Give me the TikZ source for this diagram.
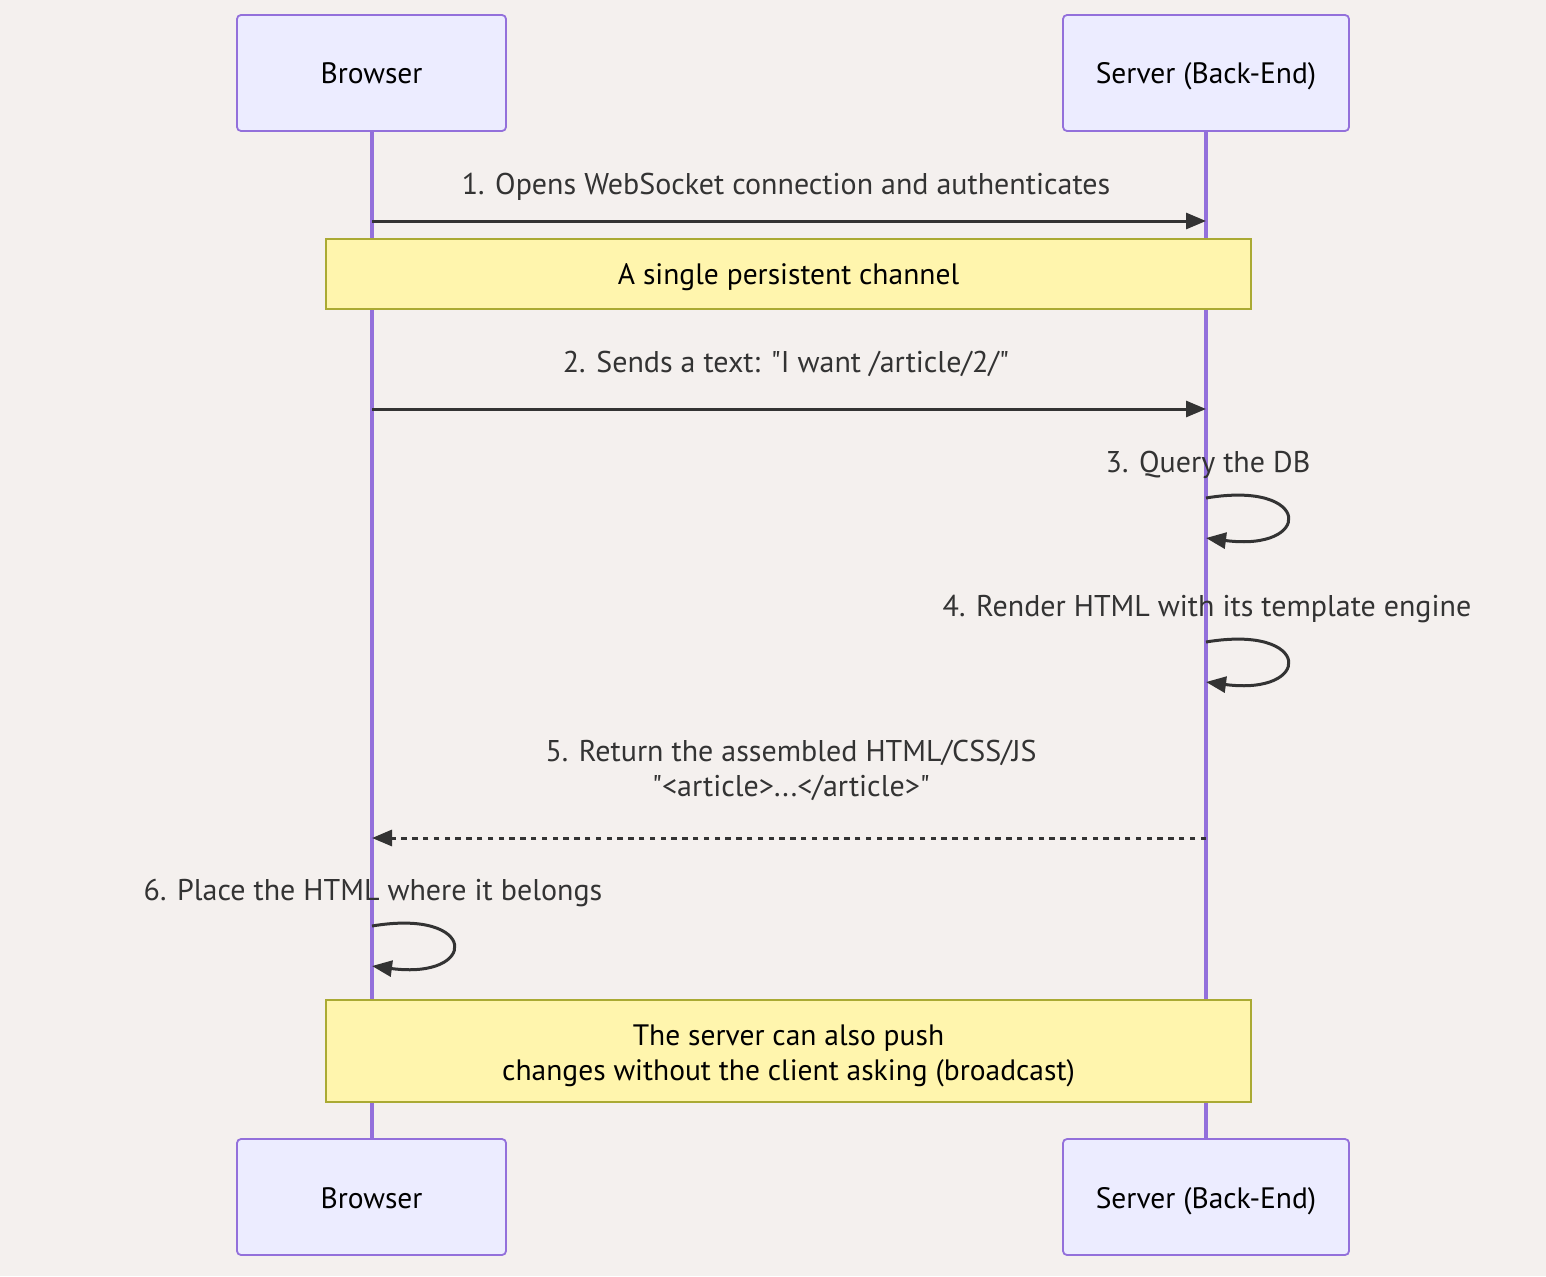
\documentclass[tikz,border=0pt]{standalone}
\usepackage{fontspec}
\setmainfont{PT Sans}[Ligatures=TeXOff]
\usetikzlibrary{arrows.meta}
\definecolor{bgc}{RGB}{244,240,238}
\definecolor{actfill}{RGB}{236,236,255}
\definecolor{actline}{RGB}{147,112,219}
\definecolor{notefill}{RGB}{255,245,173}
\definecolor{noteline}{RGB}{170,170,51}
\definecolor{msgc}{RGB}{51,51,51}
\tikzset{
  actor/.style={draw=actline, fill=actfill, line width=1.8pt, rounded corners=4pt,
    minimum width=269pt, minimum height=116pt, inner sep=0pt, text=black,
    text height=25pt, text depth=3pt,
    font=\fontsize{29.5}{35}\selectfont},
  lifeline/.style={draw=actline, line width=3.4pt},
  note/.style={draw=noteline, fill=notefill, line width=1.8pt, minimum width=925pt,
    inner sep=0pt, text=black, align=center, font=\fontsize{29.5}{35}\selectfont},
  msg/.style={draw=msgc, line width=3pt, -{Triangle[length=20pt,width=16pt]}},
  msgdash/.style={msg, dash pattern=on 5.4pt off 5.4pt},
  lbl/.style={text=msgc, align=center, inner sep=0pt, font=\fontsize{30}{35}\selectfont}
}
\begin{document}
\begin{tikzpicture}[x=1pt,y=-1pt]
\useasboundingbox (0,0) rectangle (1546,1276);
\fill[bgc] (0,0) rectangle (1546,1276);
% lifelines
\coordinate (blt) at (372,131);
\coordinate (blb) at (372,1139);
\coordinate (slt) at (1206,131);
\coordinate (slb) at (1206,1139);
\draw[lifeline] (blt) -- (blb);
\draw[lifeline] (slt) -- (slb);
% actors
\node[actor] (bt) at (371.5,73) {Browser};
\node[actor, minimum width=286pt] (st) at (1206,73) {Server (Back-End)};
\node[actor] (bb) at (371.5,1197) {Browser};
\node[actor, minimum width=286pt] (sb) at (1206,1197) {Server (Back-End)};
% message 1
\node[lbl] (l1) at (786,187) {1. Opens WebSocket connection and authenticates};
\coordinate (m1a) at (372,221);
\coordinate (m1b) at (1206,221);
\draw[msg] (m1a) -- (m1b);
% note 1
\node[note, minimum height=70pt] (n1) at (788.5,274) {\raisebox{-3pt}[\height][\depth]{A single persistent channel}};
% message 2
\node[lbl] (l2) at (786,364) {2. Sends a text: "I want /article/2/"};
\coordinate (m2a) at (372,409);
\coordinate (m2b) at (1206,409);
\draw[msg] (m2a) -- (m2b);
% message 3
\node[lbl] (l3) at (1208,465) {3. Query the DB};
\coordinate (m3a) at (1206,498);
\coordinate (m3b) at (1206,538);
\draw[msg] (m3a) .. controls (1313,480) and (1313,552) .. (m3b);
% message 4
\node[lbl] (l4) at (1207,609) {4. Render HTML with its template engine};
\coordinate (m4a) at (1206,642);
\coordinate (m4b) at (1206,682);
\draw[msg] (m4a) .. controls (1313,624) and (1313,696) .. (m4b);
% message 5
\node[lbl] (l5) at (791,770) {5. Return the assembled HTML/CSS/JS\\"<article>.{}.{}.</article>"};
\coordinate (m5a) at (1206,838);
\coordinate (m5b) at (372,838);
\draw[msgdash] (m5a) -- (m5b);
% message 6
\node[lbl] (l6) at (373,893) {6. Place the HTML where it belongs};
\coordinate (m6a) at (372,926);
\coordinate (m6b) at (372,966);
\draw[msg] (m6a) .. controls (479,908) and (479,980) .. (m6b);
% note 2
\node[note, minimum height=102pt] (n2) at (788.5,1051) {\raisebox{-5pt}[\height][\depth]{\begin{tabular}{@{}c@{}}The server can also push\\changes without the client asking (broadcast)\end{tabular}}};
\end{tikzpicture}
\end{document}
